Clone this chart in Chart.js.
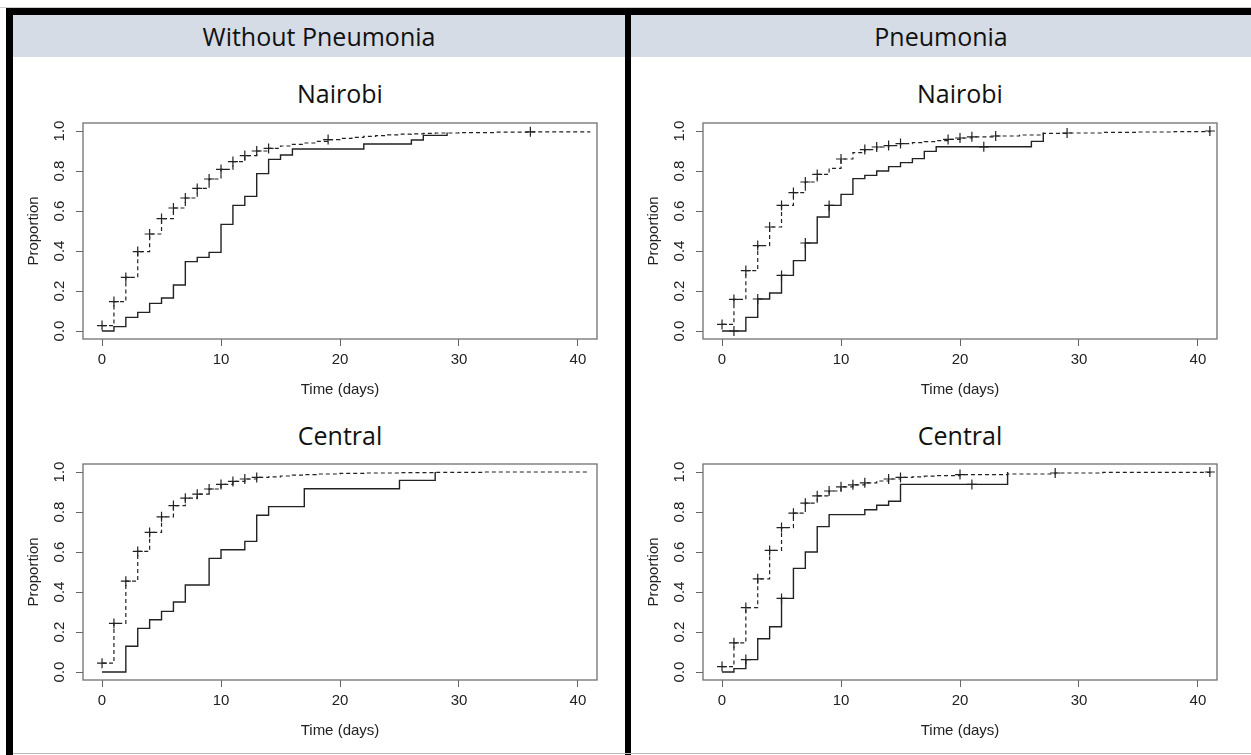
<!DOCTYPE html>
<html>
<head>
<meta charset="utf-8">
<script src="https://cdn.jsdelivr.net/npm/chart.js@4.4.1/dist/chart.umd.min.js"></script>
<style>
  body { margin: 0; background: #fff; width: 1251px; height: 755px; position: relative; overflow: hidden; font-family: "Open Sans", sans-serif; }
  .bar { position: absolute; }
  .band { position: absolute; top: 15px; height: 42px; background: #d6dce5; }
  .head { position: absolute; top: 15px; height: 42px; line-height: 42px; text-align: center; font-size: 25px; color: #111; }
  .sub { position: absolute; width: 400px; height: 34px; line-height: 34px; text-align: center; font-size: 25px; color: #111; }
  canvas { position: absolute; }
</style>
</head>
<body>
<div class="band" style="left:13px;width:612px"></div>
<div class="band" style="left:631px;width:620px"></div>
<div class="bar" style="left:0;top:7px;width:1251px;height:1px;background:#ccc"></div>
<div class="bar" style="left:6px;top:8px;width:1245px;height:7px;background:#000"></div>
<div class="bar" style="left:6px;top:8px;width:7px;height:747px;background:#000"></div>
<div class="bar" style="left:625px;top:8px;width:6px;height:747px;background:#000"></div>
<div class="bar" style="left:13px;top:753px;width:1238px;height:1px;background:#bbb"></div>

<div class="head" style="left:13px;width:612px">Without Pneumonia</div>
<div class="head" style="left:631px;width:620px">Pneumonia</div>
<div class="sub" style="left:140px;top:76px">Nairobi</div>
<div class="sub" style="left:760px;top:76px">Nairobi</div>
<div class="sub" style="left:140px;top:418px">Central</div>
<div class="sub" style="left:760px;top:418px">Central</div>

<canvas id="c1" width="605" height="290" style="left:15px;top:112px"></canvas>
<canvas id="c2" width="605" height="290" style="left:635px;top:112px"></canvas>
<canvas id="c3" width="605" height="290" style="left:15px;top:453px"></canvas>
<canvas id="c4" width="605" height="290" style="left:635px;top:453px"></canvas>

<script>
const xTicks = [0, 10, 20, 30, 40];
const yTicks = [0, 0.2, 0.4, 0.6, 0.8, 1.0];

// Nairobi, without pneumonia
const nbNoDashT = [0,1,2,3,4,5,6,7,8,9,10,11,12,13,14,15,16,17,18,19,20,21,22,23,24,25,26,27,28,30,33,36,41];
const nbNoDashP = [0.027,0.147,0.268,0.397,0.485,0.562,0.615,0.665,0.713,0.76,0.808,0.847,0.877,0.9,0.913,
                   0.925,0.933,0.94,0.948,0.957,0.963,0.968,0.973,0.977,0.981,0.984,0.986,0.988,0.99,0.992,0.994,0.996,0.998];
const nbNoDashC = [0,1,2,3,4,5,6,7,8,9,10,11,12,13,14,19,36];
const nbNoSolidT = [0,1,2,3,4,5,6,7,8,9,10,11,12,13,14,15,16,22,26,27,29];
const nbNoSolidP = [0,0.022,0.068,0.093,0.138,0.165,0.23,0.347,0.368,0.393,0.533,0.628,0.673,0.787,0.858,0.88,0.91,0.935,0.955,0.978,0.993];
const nbNoSolidC = [];

// Nairobi, pneumonia
const nbPnDashT = [0,1,2,3,4,5,6,7,8,9,10,11,12,13,14,15,16,17,18,19,20,21,23,25,27,29,32,35,38,41];
const nbPnDashP = [0.033,0.158,0.302,0.427,0.52,0.628,0.692,0.745,0.783,0.813,0.86,0.892,0.907,0.92,0.927,0.937,
                   0.942,0.947,0.952,0.958,0.965,0.971,0.975,0.98,0.988,0.99,0.993,0.995,0.997,1.0];
const nbPnDashC = [0,1,2,3,4,5,6,7,8,10,12,13,14,15,19,20,21,23,29,41];
const nbPnSolidT = [0,2,3,4,5,6,7,8,9,10,11,12,13,14,15,16,17,18,26,27];
const nbPnSolidP = [0,0.068,0.16,0.19,0.278,0.352,0.44,0.57,0.628,0.683,0.762,0.778,0.8,0.822,0.842,0.862,0.898,0.921,0.948,0.993];
const nbPnSolidC = [1,3,5,7,9,22];

// Central, without pneumonia
const ceNoDashT = [0,1,2,3,4,5,6,7,8,9,10,11,12,13,14,15,16,17,18,20,22,25,28,32,41];
const ceNoDashP = [0.044,0.243,0.454,0.603,0.698,0.776,0.832,0.869,0.889,0.915,0.938,0.953,0.965,0.973,
                   0.976,0.98,0.984,0.987,0.99,0.993,0.995,0.997,0.998,1.0,1.0];
const ceNoDashC = [0,1,2,3,4,5,6,7,8,9,10,11,12,13];
const ceNoSolidT = [0,2,3,4,5,6,7,9,10,12,13,14,17,25,28];
const ceNoSolidP = [0,0.129,0.218,0.261,0.303,0.35,0.435,0.568,0.611,0.653,0.784,0.827,0.916,0.958,1.0];
const ceNoSolidC = [];

// Central, pneumonia
const cePnDashT = [0,1,2,3,4,5,6,7,8,9,10,11,12,13,14,15,16,17,18,20,24,28,32,41];
const cePnDashP = [0.027,0.146,0.322,0.466,0.608,0.722,0.794,0.844,0.881,0.905,0.926,0.936,0.946,0.955,0.965,0.973,
                   0.976,0.979,0.982,0.987,0.99,0.995,0.998,1.0];
const cePnDashC = [0,1,2,3,4,5,6,7,8,9,10,11,12,14,15,20,28,41];
const cePnSolidT = [0,1,2,3,4,5,6,7,8,9,12,13,14,15,24];
const cePnSolidP = [0,0.017,0.062,0.166,0.226,0.368,0.518,0.6,0.727,0.787,0.811,0.834,0.854,0.938,1.0];
const cePnSolidC = [2,5,21];

const ink = '#222';
const tickFont = { family: '"Liberation Sans", Arial, sans-serif', size: 15 };

function pts(t, p) {
  return t.map((x, i) => ({ x: x, y: p[i] }));
}

// censor marks sit on the step curve
function censPts(c, t, p) {
  return c.map(x => {
    let k = 0;
    for (let i = 0; i < t.length; i++) if (t[i] <= x) k = i;
    return { x: x, y: p[k] };
  });
}

const boxPlugin = {
  id: 'box',
  afterDraw(chart) {
    const { ctx, chartArea: a } = chart;
    ctx.save();
    ctx.strokeStyle = '#707070';
    ctx.lineWidth = 1.3;
    ctx.strokeRect(a.left, a.top, a.right - a.left, a.bottom - a.top);
    ctx.restore();
  }
};

function makeChart(id, dT, dP, dC, sT, sP, sC) {
  new Chart(document.getElementById(id), {
    type: 'line',
    data: {
      datasets: [
        { data: pts(dT, dP), borderColor: ink, borderWidth: 1.2, borderDash: [4, 3], stepped: 'before', pointRadius: 0, fill: false },
        { data: pts(sT, sP), borderColor: ink, borderWidth: 1.4, stepped: 'before', pointRadius: 0, fill: false },
        { data: censPts(dC, dT, dP), showLine: false, pointStyle: 'cross', pointRadius: 5, pointBorderColor: ink, pointBorderWidth: 1.2 },
        { data: censPts(sC, sT, sP), showLine: false, pointStyle: 'cross', pointRadius: 5, pointBorderColor: ink, pointBorderWidth: 1.2 }
      ]
    },
    options: {
      responsive: false,
      animation: false,
      devicePixelRatio: 1,
      events: [],
      layout: { padding: { top: 11, right: 23, left: 0, bottom: 0 } },
      plugins: { legend: { display: false }, tooltip: { enabled: false } },
      scales: {
        x: {
          type: 'linear', min: -1.6, max: 41.6,
          afterBuildTicks: s => { s.ticks = xTicks.map(v => ({ value: v })); },
          afterFit: s => { s.height = 63; s.paddingLeft = 0; s.paddingRight = 0; },
          grid: { drawOnChartArea: false, tickLength: 7, color: '#666', lineWidth: 1 },
          border: { display: false },
          ticks: { font: tickFont, color: '#222', padding: 5, maxRotation: 0, autoSkip: false },
          title: { display: true, text: 'Time (days)', font: tickFont, color: '#222', padding: { top: 0, bottom: 3 } }
        },
        y: {
          type: 'linear', min: -0.04, max: 1.04,
          afterBuildTicks: s => { s.ticks = yTicks.map(v => ({ value: v })); },
          afterFit: s => { s.width = 68; s.paddingTop = 0; s.paddingBottom = 0; },
          grid: { drawOnChartArea: false, tickLength: 7, color: '#666', lineWidth: 1 },
          border: { display: false },
          ticks: { font: tickFont, color: '#222', padding: 6, minRotation: 90, maxRotation: 90, crossAlign: 'center',
                   callback: v => v.toFixed(1) },
          title: { display: true, text: 'Proportion', font: tickFont, color: '#222', padding: { top: 10, bottom: 0 } }
        }
      }
    },
    plugins: [boxPlugin]
  });
}

makeChart('c1', nbNoDashT, nbNoDashP, nbNoDashC, nbNoSolidT, nbNoSolidP, nbNoSolidC);
makeChart('c2', nbPnDashT, nbPnDashP, nbPnDashC, nbPnSolidT, nbPnSolidP, nbPnSolidC);
makeChart('c3', ceNoDashT, ceNoDashP, ceNoDashC, ceNoSolidT, ceNoSolidP, ceNoSolidC);
makeChart('c4', cePnDashT, cePnDashP, cePnDashC, cePnSolidT, cePnSolidP, cePnSolidC);
</script>
</body>
</html>
